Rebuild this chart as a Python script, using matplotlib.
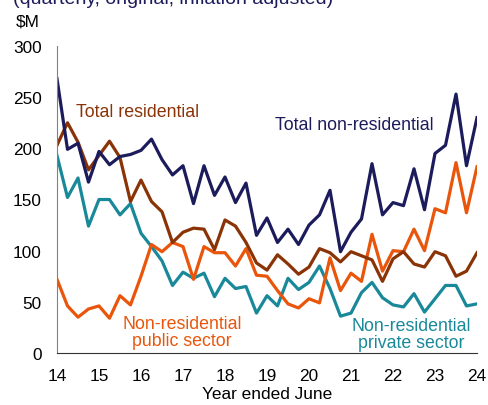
import numpy as np
import matplotlib.pyplot as plt

plt.rcParams['font.family'] = ['Liberation Sans', 'DejaVu Sans']

# quarterly, year ended June 2014 .. 2024
years = np.arange(41) / 4 + 14

total_nonres = [268, 199, 205, 167, 197, 184, 192, 194, 198, 209,
                189, 174, 183, 146, 183, 154, 172, 147, 166, 115,
                132, 108, 121, 106, 125, 135, 159, 99, 118, 131,
                185, 135, 147, 144, 180, 140, 195, 203, 253, 183, 230]
total_res = [203, 225, 206, 179, 193, 207, 191, 148, 169, 148,
             138, 108, 118, 122, 121, 101, 130, 124, 108, 88,
             81, 96, 87, 77, 84, 102, 98, 89, 99, 95,
             91, 70, 92, 99, 87, 84, 99, 95, 75, 80, 98]
private = [193, 152, 171, 124, 150, 150, 135, 146, 117, 104,
           90, 66, 79, 73, 78, 55, 73, 63, 65, 39,
           56, 46, 73, 62, 69, 85, 63, 36, 39, 59,
           69, 54, 47, 45, 58, 40, 53, 66, 66, 46, 48]
public = [72, 46, 35, 43, 46, 34, 56, 47, 75, 106,
          99, 108, 104, 72, 104, 98, 98, 85, 102, 76,
          75, 61, 48, 44, 53, 49, 93, 61, 78, 70,
          116, 80, 100, 99, 121, 100, 141, 137, 186, 137, 182]

navy = '#1c1c5c'
brown = '#8a3306'
orange = '#e9560b'
teal = '#19899a'

fig = plt.figure(figsize=(4.88, 4.06), dpi=100)
ax = fig.add_axes([57 / 488, 52 / 406, 420 / 488, 307 / 406])

lw = 2.3
ax.plot(years, private, color=teal, lw=lw)
ax.plot(years, public, color=orange, lw=lw)
ax.plot(years, total_res, color=brown, lw=lw)
ax.plot(years, total_nonres, color=navy, lw=lw)

ax.set_xlim(14, 24)
ax.set_ylim(0, 300)
ax.set_xticks(range(14, 25))
ax.set_yticks(range(0, 301, 50))
ax.tick_params(axis='x', length=0, pad=11, labelsize=12.4)
ax.tick_params(axis='y', length=0, pad=11, labelsize=12.4)
for s in ['top', 'right']:
    ax.spines[s].set_visible(False)
ax.spines['left'].set_color('#808080')
ax.spines['bottom'].set_color('#333333')
ax.set_xlabel('Year ended June', fontsize=12.4, labelpad=2)

fs = 12.8
fig.text(0.281, 0.722, 'Total residential', color=brown, fontsize=fs,
         ha='center', va='center')
fig.text(0.7264, 0.692, 'Total non-residential', color=navy, fontsize=fs,
         ha='center', va='center')
fig.text(0.373, 0.18, 'Non-residential\npublic sector', color=orange,
         fontsize=fs, ha='center', va='center', linespacing=1.05)
fig.text(0.843, 0.175, 'Non-residential\nprivate sector', color=teal,
         fontsize=fs, ha='center', va='center', linespacing=1.05)

fig.text(16 / 488, 1 - 22 / 406, '$M', fontsize=12.4, va='center', ha='left')
fig.text(13 / 488, 1.0, '(quarterly, original, inflation adjusted)',
         color=navy, fontsize=14, va='center', ha='left')

fig.savefig('out.png', dpi=100)
